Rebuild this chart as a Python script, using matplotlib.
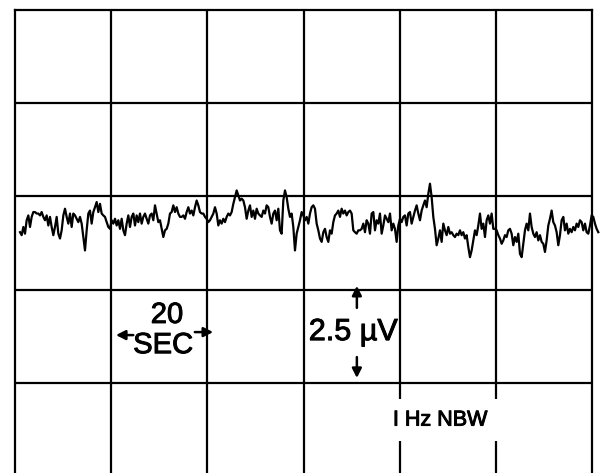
import numpy as np
import matplotlib
matplotlib.use('Agg')
import matplotlib.pyplot as plt
import matplotlib.patheffects as pe

plt.rcParams['font.family'] = ['Liberation Sans', 'DejaVu Sans']

# 刻度: 20 s/div 横向, 2.5 uV/div 纵向
sec_per_div = 20
uv_per_div = 2.5
n_xdiv = 6
n_ydiv = 5

# 采样起点和间隔 (s)
t_start = 1.04
t_step = 0.3466

# 噪声轨迹 (uV, 相对中心网格线), 按画面分段读取
trace_part1 = [-0.96, -1.04, -0.82, -1.00, -0.64, -0.51, -0.82, -0.55, -0.42, -0.42,
               -0.46, -0.46, -0.51, -0.42, -0.55, -0.64, -0.51, -0.78, -0.55, -0.82,
               -1.04, -0.82, -0.55, -1.00, -1.13, -0.91, -0.51, -0.33, -0.55, -0.73,
               -0.46, -0.82, -0.46, -0.51, -0.60, -0.69, -0.55, -0.73, -1.09, -1.45,
               -0.91, -0.46, -0.38, -0.73, -0.42, -0.29, -0.15, -0.42, -0.20, -0.46,
               -0.51, -0.55, -0.69, -0.82, -0.87, -0.64, -0.73, -0.60, -0.78, -0.64,
               -0.87, -0.60, -0.91, -1.04, -0.73, -0.51, -0.82, -0.55, -0.46, -0.78,
               -0.51, -0.69, -0.46, -0.73, -0.55, -0.46, -0.60, -0.73, -0.51, -0.46,
               -0.64, -0.24]
trace_part2 = [-0.46, -0.69, -0.64, -0.87, -1.09, -0.91, -0.87, -0.73, -0.46, -0.42,
               -0.24, -0.42, -0.29, -0.46, -0.55, -0.55, -0.51, -0.60, -0.42, -0.29,
               -0.46, -0.38, -0.51, -0.29, -0.11, -0.24, -0.42, -0.46, -0.46, -0.55,
               -0.60, -0.69, -0.64, -0.55, -0.46, -0.29, -0.46, -0.78, -0.64, -0.73,
               -0.60, -0.69, -0.55, -0.46, -0.51, -0.42, -0.20, -0.02, 0.16, 0.03,
               -0.11, -0.06, -0.11, -0.29, -0.60, -0.38, -0.24, -0.55, -0.38, -0.60,
               -0.33, -0.46, -0.51, -0.55, -0.38, -0.46, -0.24, -0.29, -0.55, -0.73,
               -0.46, -0.38, -0.64, -0.33, -0.91, -1.00, -0.11, 0.16, -0.02, -0.33,
               -0.55, -0.46, -0.82, -1.45, -1.00, -0.82, -0.64]
trace_part3 = [-0.42, -0.51, -0.64, -0.55, -0.73, -0.46, -0.29, -0.24, -0.33, -0.73,
               -0.91, -1.13, -1.22, -0.96, -0.87, -1.09, -1.22, -0.91, -1.00, -0.69,
               -0.51, -0.46, -0.38, -0.55, -0.33, -0.46, -0.38, -0.51, -0.42, -0.38,
               -0.46, -0.91, -0.96, -1.00, -0.91, -0.91, -0.87, -0.73, -0.96, -0.64,
               -0.73, -1.00, -0.46, -0.42, -0.91, -0.64, -0.73, -0.46, -1.00, -0.78,
               -0.51, -0.60, -0.69, -0.46, -0.91, -0.73, -0.87, -1.22, -0.78, -0.60,
               -0.69, -0.55, -0.51, -0.78, -0.46, -0.42, -0.73, -0.55, -0.38, -0.24,
               -0.46, -0.64, -0.38, -0.24, -0.11, -0.29, 0.07, 0.34, -0.02, -0.55,
               -0.87, -1.31, -1.13, -0.91, -1.22, -0.73, -0.91, -1.04, -0.82]
trace_part4 = [-1.00, -0.96, -1.04, -1.09, -1.00, -1.04, -0.91, -1.04, -0.96, -1.13,
               -1.04, -1.36, -1.63, -1.45, -1.18, -0.91, -1.04, -0.78, -0.46, -0.87,
               -0.73, -1.09, -0.64, -0.51, -0.73, -0.46, -0.87, -0.87, -0.91, -1.04,
               -1.13, -1.27, -1.18, -1.04, -1.09, -0.91, -0.87, -1.00, -1.31, -1.09,
               -1.22, -1.00, -1.54, -1.63, -1.27, -0.91, -0.73, -0.91, -0.46, -0.82,
               -1.00, -1.09, -0.96, -1.18, -1.04, -1.22, -1.27, -1.49, -1.18, -0.78,
               -0.60, -0.38, -0.69, -0.78, -0.96, -1.31, -1.04, -0.64, -0.55, -0.91,
               -0.73, -1.00, -0.87, -0.96, -0.82, -0.91, -0.73, -0.82, -0.64, -0.69,
               -0.91, -0.73, -0.96, -1.00, -0.78, -0.51, -0.55, -0.73, -0.87, -0.96]

trace = np.array(trace_part1 + trace_part2 + trace_part3 + trace_part4)
t = t_start + t_step * np.arange(len(trace))

fig = plt.figure(figsize=(6.06, 4.73), dpi=100)
# 网格底边超出画面 (原图被裁掉)
ax = fig.add_axes([15 / 606, -3 / 473, 577 / 606, 466 / 473])
ax.set_xlim(0, n_xdiv * sec_per_div)
ax.set_ylim(-3 * uv_per_div, 2 * uv_per_div)

# 网格
for i in range(1, n_xdiv):
    ax.axvline(i * sec_per_div, color='black', lw=1.6, zorder=1)
for j in range(1, n_ydiv):
    ax.axhline(-3 * uv_per_div + j * uv_per_div, color='black', lw=1.6, zorder=1)
for s in ax.spines.values():
    s.set_linewidth(1.6)
ax.set_xticks([])
ax.set_yticks([])

# 轨迹
ax.plot(t, trace, color='black', lw=1.6, clip_on=False, zorder=3)

# 标注 (字体略加粗)
heavy = [pe.withStroke(linewidth=0.7, foreground='black')]
arrow = dict(arrowstyle='-|>,head_length=0.55,head_width=0.28', color='black', lw=1.8,
             shrinkA=0, shrinkB=0)
ax.text(31.6, -3.18, '20', fontsize=21, ha='center', va='center', zorder=4,
        path_effects=heavy)
ax.text(30.8, -3.99, 'SEC', fontsize=21, ha='center', va='center', zorder=4,
        path_effects=heavy)
ax.annotate('', xy=(21.0, -3.72), xytext=(24.6, -3.72), arrowprops=arrow, zorder=4)
ax.annotate('', xy=(41.2, -3.64), xytext=(37.4, -3.64), arrowprops=arrow, zorder=4)

ax.text(61.1, -3.64, '2.5 µV', fontsize=22, ha='left', va='center', zorder=4,
        path_effects=heavy)
ax.annotate('', xy=(71.1, -2.40), xytext=(71.1, -2.99), arrowprops=arrow, zorder=4)
ax.annotate('', xy=(71.1, -4.87), xytext=(71.1, -4.31), arrowprops=arrow, zorder=4)

ax.text(78.6, -6.0, 'I Hz NBW', fontsize=15.5, ha='left', va='center', zorder=4,
        path_effects=heavy,
        bbox=dict(boxstyle='square,pad=0.5', facecolor='white', edgecolor='none'))

fig.savefig('out.png', dpi=100)
